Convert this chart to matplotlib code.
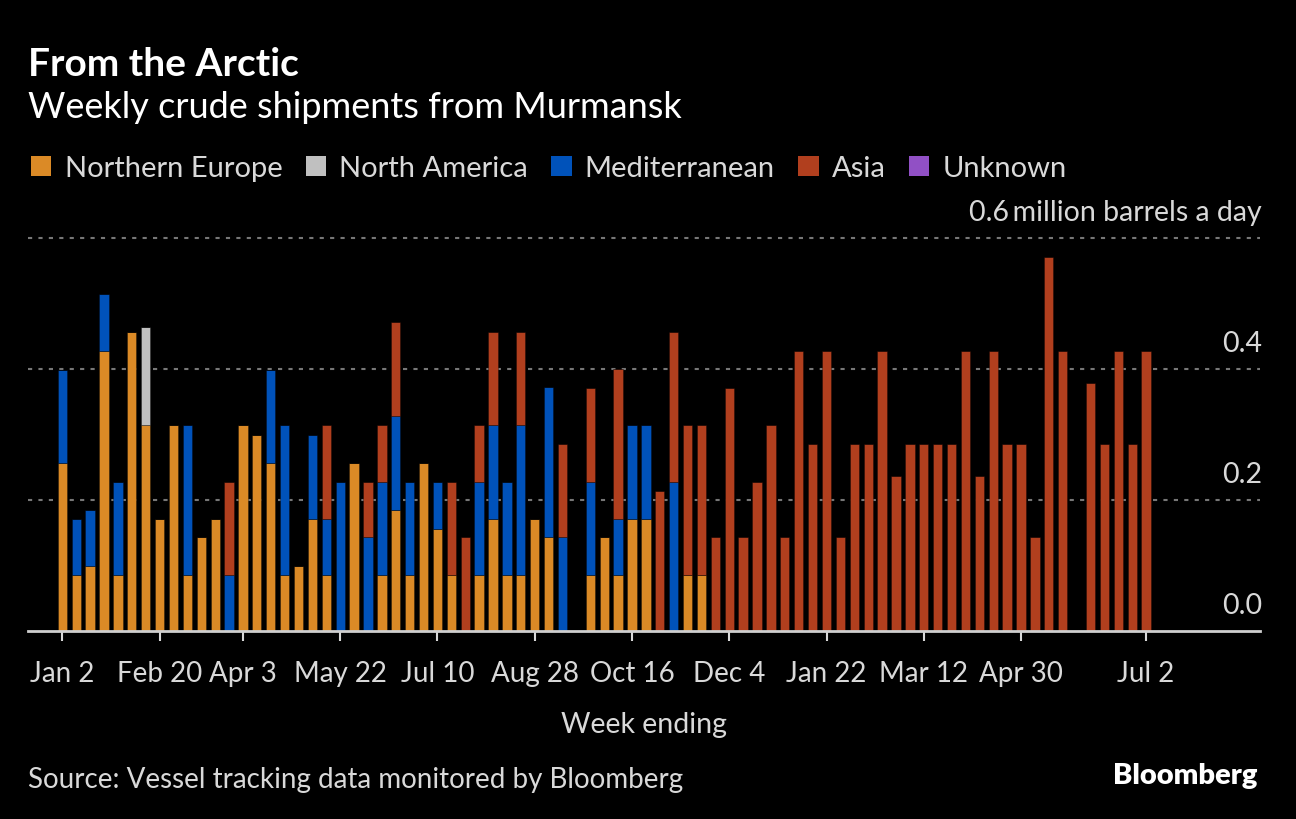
import matplotlib
matplotlib.use("Agg")
import matplotlib.pyplot as plt
from matplotlib.patches import Patch
import numpy as np
import pandas as pd

plt.rcParams['font.family'] = ['Lato', 'DejaVu Sans']

# week ending dates, Jan 2 2022 .. Jul 2 2023
weeks = pd.date_range('2022-01-02', '2023-07-02', freq='W-SUN')

# million barrels a day, by destination
northern_europe = [0.256, 0.085, 0.099, 0.428, 0.085, 0.456, 0.314, 0.171, 0.314, 0.085,
                   0.143, 0.171, 0.0, 0.314, 0.300, 0.256, 0.085, 0.099, 0.171, 0.085,
                   0.0, 0.256, 0.0, 0.085, 0.185, 0.085, 0.256, 0.156, 0.085, 0.0,
                   0.085, 0.171, 0.085, 0.085, 0.171, 0.143, 0.0, 0.0, 0.085, 0.143,
                   0.085, 0.171, 0.171, 0.0, 0.0, 0.085, 0.085, 0.0, 0.0, 0.0,
                   0.0, 0.0, 0.0, 0.0, 0.0, 0.0, 0.0, 0.0, 0.0, 0.0,
                   0.0, 0.0, 0.0, 0.0, 0.0, 0.0, 0.0, 0.0, 0.0, 0.0,
                   0.0, 0.0, 0.0, 0.0, 0.0, 0.0, 0.0, 0.0, 0.0]
north_america = [0.0] * 6 + [0.150] + [0.0] * 72
mediterranean = [0.143, 0.086, 0.086, 0.086, 0.143, 0.0, 0.0, 0.0, 0.0, 0.229,
                 0.0, 0.0, 0.085, 0.0, 0.0, 0.143, 0.229, 0.0, 0.129, 0.086,
                 0.228, 0.0, 0.143, 0.143, 0.143, 0.143, 0.0, 0.071, 0.0, 0.0,
                 0.143, 0.143, 0.143, 0.229, 0.0, 0.229, 0.143, 0.0, 0.143, 0.0,
                 0.086, 0.143, 0.143, 0.0, 0.228, 0.0, 0.0, 0.0, 0.0, 0.0,
                 0.0, 0.0, 0.0, 0.0, 0.0, 0.0, 0.0, 0.0, 0.0, 0.0,
                 0.0, 0.0, 0.0, 0.0, 0.0, 0.0, 0.0, 0.0, 0.0, 0.0,
                 0.0, 0.0, 0.0, 0.0, 0.0, 0.0, 0.0, 0.0, 0.0]
asia = [0.0, 0.0, 0.0, 0.0, 0.0, 0.0, 0.0, 0.0, 0.0, 0.0,
        0.0, 0.0, 0.143, 0.0, 0.0, 0.0, 0.0, 0.0, 0.0, 0.143,
        0.0, 0.0, 0.085, 0.086, 0.143, 0.0, 0.0, 0.0, 0.143, 0.143,
        0.086, 0.142, 0.0, 0.142, 0.0, 0.0, 0.142, 0.0, 0.143, 0.0,
        0.229, 0.0, 0.0, 0.213, 0.229, 0.229, 0.229, 0.143, 0.371, 0.143,
        0.228, 0.314, 0.143, 0.428, 0.285, 0.428, 0.143, 0.285, 0.285, 0.428,
        0.236, 0.285, 0.285, 0.285, 0.285, 0.428, 0.236, 0.428, 0.285, 0.285,
        0.143, 0.571, 0.428, 0.0, 0.378, 0.285, 0.428, 0.285, 0.428]
unknown = [0.0] * 79

series = [("Northern Europe", northern_europe, "#db8a26"),
          ("North America", north_america, "#c0c0c0"),
          ("Mediterranean", mediterranean, "#0052ba"),
          ("Asia", asia, "#b13f1e"),
          ("Unknown", unknown, "#9150c5")]

tick_labels = ["Jan 2", "Feb 20", "Apr 3", "May 22", "Jul 10", "Aug 28",
               "Oct 16", "Dec 4", "Jan 22", "Mar 12", "Apr 30", "Jul 2"]
tick_dates = ["2022-01-02", "2022-02-20", "2022-04-03", "2022-05-22", "2022-07-10",
              "2022-08-28", "2022-10-16", "2022-12-04", "2023-01-22", "2023-03-12",
              "2023-04-30", "2023-07-02"]

W, H = 1296, 820
fig = plt.figure(figsize=(W / 100, H / 100), dpi=100, facecolor='black')
ax = fig.add_axes([28 / W, (H - 632) / H, (1260 - 28) / W, (632 - 239) / H])
ax.set_facecolor('black')

x = np.arange(len(weeks))
bottom = np.zeros(len(weeks))
for name, vals, col in series:
    vals = np.array(vals)
    ax.bar(x, vals, width=0.67, bottom=bottom, color=col,
           edgecolor=(0, 0, 0, 0.35), linewidth=0.6, zorder=3)
    bottom += vals

ax.set_xlim(-2.47, 86.2)
ax.set_ylim(0, 0.6)

for s in ax.spines.values():
    s.set_visible(False)
ax.axhline(0, color='#cfcfcf', lw=2, zorder=4, clip_on=False)
for yv in [0.2, 0.4, 0.6]:
    ax.axhline(yv, color='#777777', lw=1.5, ls=(0, (2, 3)), zorder=1, clip_on=False)

ax.set_yticks([])
for yv, lab in [(0.0, "0.0"), (0.2, "0.2"), (0.4, "0.4"), (0.6, "0.6\u2009million barrels a day")]:
    ax.annotate(lab, xy=(1, yv), xycoords=('axes fraction', 'data'),
                xytext=(1.5, 13), textcoords='offset points',
                ha='right', va='baseline', color='#d9d9d9', fontsize=20.5)

pos = [weeks.get_loc(pd.Timestamp(d)) for d in tick_dates]
ax.set_xticks(pos)
ax.set_xticklabels(tick_labels)
ax.tick_params(axis='x', colors='#d9d9d9', labelcolor='#d9d9d9', labelsize=20,
               length=7, width=1.5, pad=14)
ax.set_xlabel("Week ending", color='#d9d9d9', fontsize=20.5, labelpad=18)

fig.text(28 / W, 1 - 76 / H, "From the Arctic", color='white', fontsize=28,
         fontweight='bold', va='baseline')
fig.text(28 / W, 1 - 118 / H, "Weekly crude shipments from Murmansk", color='white',
         fontsize=26, va='baseline')

handles = [Patch(facecolor=c, edgecolor='none', label=n) for n, v, c in series]
leg = fig.legend(handles=handles, ncol=5, loc='upper left', frameon=False,
                 bbox_to_anchor=(31 / W, 1 - 156 / H), fontsize=21,
                 handlelength=0.7, handleheight=0.7, handletextpad=0.45,
                 columnspacing=0.8, borderaxespad=0, borderpad=0)
for t in leg.get_texts():
    t.set_color('#d9d9d9')

fig.text(28 / W, 1 - 788 / H, "Source: Vessel tracking data monitored by Bloomberg",
         color='#d9d9d9', fontsize=20, va='baseline')
fig.text(1257 / W, 1 - 784 / H, "Bloomberg", color='white', fontsize=21,
         fontweight='heavy', va='baseline', ha='right')

fig.savefig('out.png', dpi=100, facecolor='black')
